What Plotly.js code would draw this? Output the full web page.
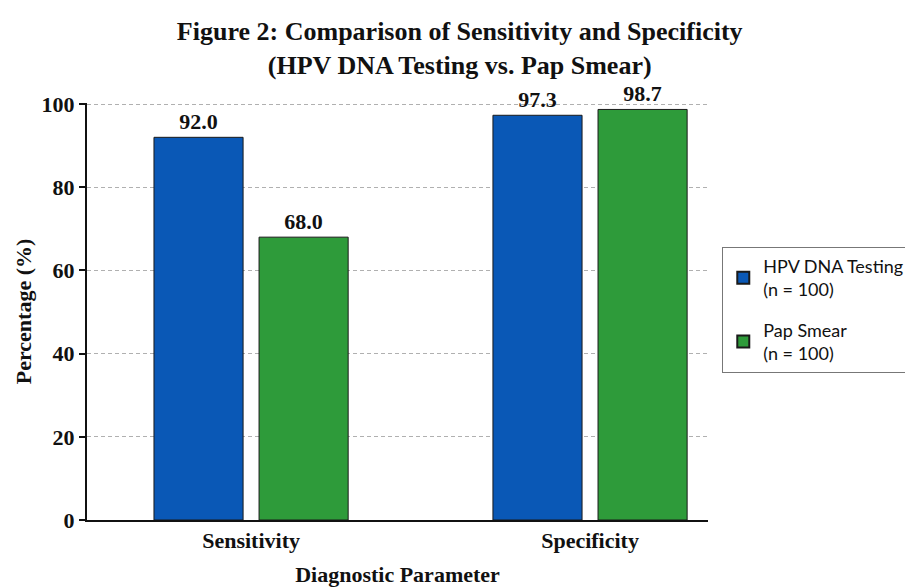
<!DOCTYPE html>
<html>
<head>
<meta charset="utf-8">
<script src="https://cdn.plot.ly/plotly-3.0.1.min.js"></script>
<style>html,body{margin:0;padding:0;background:#fff;}#chart{width:905px;height:587px;}</style>
</head>
<body>
<div id="chart"></div>
<script>
const categories = ["Sensitivity", "Specificity"];
const hpvValues = [92.0, 97.3];
const papValues = [68.0, 98.7];
const seriesNames = ["HPV DNA Testing<br>(n = 100)", "Pap Smear<br>(n = 100)"];
const yTicks = [0, 20, 40, 60, 80, 100];

const serif = "Liberation Serif, Times New Roman, serif";
const labelFont = {family: serif, size: 22, color: "#111", weight: "bold"};

const traces = [
  {type: "bar", x: categories, y: hpvValues, name: seriesNames[0], legendgroup: "hpv",
   marker: {color: "#0a58b6", line: {color: "#1a1a1a", width: 1}},
   text: hpvValues.map(v => v.toFixed(1)), textposition: "outside",
   textfont: labelFont, cliponaxis: false},
  {type: "bar", x: categories, y: papValues, name: seriesNames[1], legendgroup: "pap",
   marker: {color: "#2e9b3a", line: {color: "#1a1a1a", width: 1}},
   text: papValues.map(v => v.toFixed(1)), textposition: "outside",
   textfont: labelFont, cliponaxis: false}
];

const layout = {
  width: 905, height: 587,
  paper_bgcolor: "#ffffff", plot_bgcolor: "#ffffff",
  margin: {l: 87, r: 197, t: 103, b: 67, autoexpand: false},
  barmode: "group", bargap: 0.38, bargroupgap: 0.152,
  title: {text: "Figure 2: Comparison of Sensitivity and Specificity<br>(HPV DNA Testing vs. Pap Smear)",
          font: {family: serif, size: 26, color: "#111", weight: "bold"},
          x: 0.508, xref: "container", xanchor: "center", y: 0.932, yref: "container", yanchor: "top"},
  xaxis: {range: [-0.484, 1.348], showline: true, linecolor: "#111", linewidth: 2,
          ticks: "", tickfont: {family: serif, size: 22, color: "#111", weight: "bold"},
          showgrid: false, zeroline: false,
          title: {text: "Diagnostic Parameter", font: {family: serif, size: 22, color: "#111", weight: "bold"}, standoff: 16}},
  yaxis: {range: [0, 100.25], tickvals: yTicks, showline: true, linecolor: "#111", linewidth: 2,
          ticks: "outside", ticklen: 6, tickwidth: 2, tickcolor: "#111",
          tickfont: {family: serif, size: 22, color: "#111", weight: "bold"},
          showgrid: true, gridcolor: "#b0b0b0", griddash: "4px,3px", gridwidth: 1, zeroline: false,
          title: {text: "Percentage (%)", font: {family: serif, size: 22, color: "#111", weight: "bold"}, standoff: 4}},
  legend: {x: 1.023, xanchor: "left", y: 0.655, yanchor: "top",
           bgcolor: "#ffffff", bordercolor: "#777", borderwidth: 1,
           font: {family: "Lato, sans-serif", size: 18, color: "#111"},
           itemsizing: "constant", tracegroupgap: 14},
  showlegend: true
};

Plotly.newPlot("chart", traces, layout, {displayModeBar: false, staticPlot: true});
</script>
</body>
</html>
